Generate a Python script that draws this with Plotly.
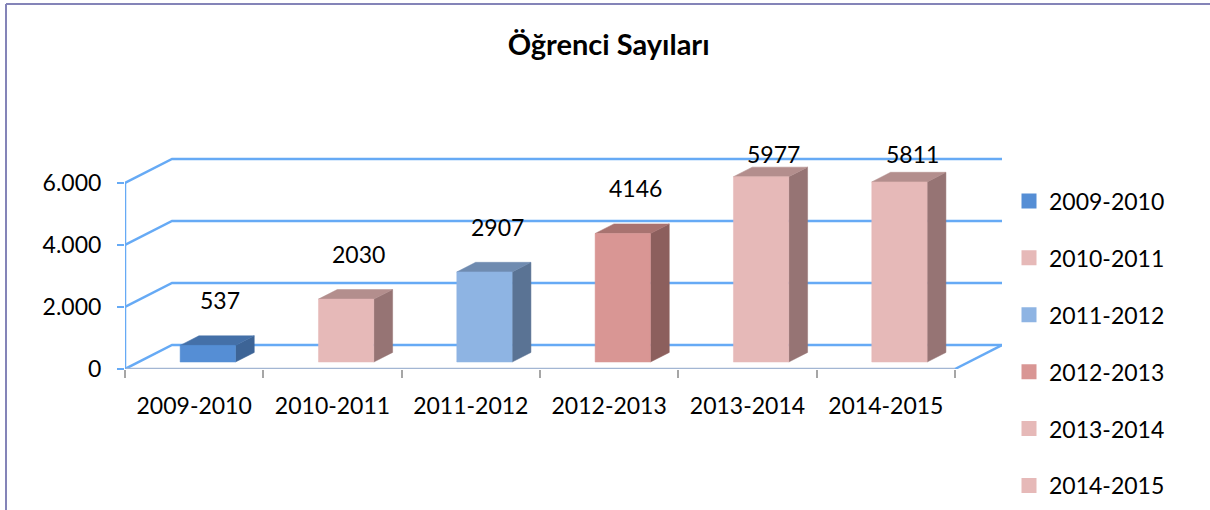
import plotly.graph_objects as go

# ---- data ----
categories = ["2009-2010", "2010-2011", "2011-2012", "2012-2013", "2013-2014", "2014-2015"]
values = [537, 2030, 2907, 4146, 5977, 5811]
front_colors = ["#558ED5", "#E6B9B8", "#8EB4E3", "#D99694", "#E6B9B8", "#E6B9B8"]
top_colors = ["#4470A8", "#B38E8D", "#6F8BB0", "#A87370", "#B38E8D", "#B38E8D"]
side_colors = ["#3D6496", "#967474", "#5A7394", "#8C5F5D", "#967474", "#967474"]
tick_vals = [0, 2000, 4000, 6000]
tick_text = ["0", "2.000", "4.000", "6.000"]
title_text = "Öğrenci Sayıları"

# ---- pseudo-3D geometry (axis units) ----
DX = 0.34      # depth offset along x (category units)
DY = 774       # depth offset along y (value units)
D0, D1 = 0.29, 0.69   # bar depth span (fraction of floor depth)
HALF_W = 0.2
N = len(categories)
GRID = "#66AAF5"
FONT = "Lato, 'Open Sans', sans-serif"
FS = 23

W, H = 1210, 510
ML, MT, PW, PH = 125, 125, 877, 244

fig = go.Figure()

# back wall gridlines + left wall diagonals
for v in tick_vals:
    fig.add_trace(go.Scatter(
        x=[0, DX, N + DX], y=[v, v + DY, v + DY], mode="lines",
        line=dict(color=GRID, width=2.5), hoverinfo="skip", showlegend=False))

# floor right diagonal and front edge
fig.add_trace(go.Scatter(
    x=[N, N + DX], y=[0, DY], mode="lines",
    line=dict(color=GRID, width=2.5), hoverinfo="skip", showlegend=False))
fig.add_trace(go.Scatter(
    x=[0, N], y=[0, 0], mode="lines",
    line=dict(color="#A3B6D3", width=2.5), hoverinfo="skip", showlegend=False))
# front vertical axis line
fig.add_trace(go.Scatter(
    x=[0, 0], y=[0, max(tick_vals)], mode="lines",
    line=dict(color=GRID, width=2.5), hoverinfo="skip", showlegend=False))

# bars
for i, v in enumerate(values):
    c = i + 0.5 + D0 * DX
    xl, xr = c - HALF_W, c + HALF_W
    yb, yt = D0 * DY, v + D0 * DY
    ddx, ddy = (D1 - D0) * DX, (D1 - D0) * DY
    # side face
    fig.add_trace(go.Scatter(
        x=[xr, xr + ddx, xr + ddx, xr, xr], y=[yb, yb + ddy, yt + ddy, yt, yb],
        fill="toself", fillcolor=side_colors[i], mode="lines",
        line=dict(color=side_colors[i], width=0.5), hoverinfo="skip", showlegend=False))
    # top face
    fig.add_trace(go.Scatter(
        x=[xl, xr, xr + ddx, xl + ddx, xl], y=[yt, yt, yt + ddy, yt + ddy, yt],
        fill="toself", fillcolor=top_colors[i], mode="lines",
        line=dict(color=top_colors[i], width=0.5), hoverinfo="skip", showlegend=False))
    # front face
    fig.add_trace(go.Scatter(
        x=[xl, xr, xr, xl, xl], y=[yb, yb, yt, yt, yb],
        fill="toself", fillcolor=front_colors[i], mode="lines",
        line=dict(color=front_colors[i], width=0.5),
        name=categories[i], hovertemplate="%{text}", text=[str(v)] * 5, showlegend=False))
    # data label
    fig.add_annotation(
        x=i + 0.5 + 0.19, y=min(v + 1680, 6950), text=str(v), showarrow=False,
        font=dict(family=FONT, size=FS, color="#000000"), xanchor="center", yanchor="middle")

# legend entries
for i, cat in enumerate(categories):
    fig.add_trace(go.Scatter(
        x=[None], y=[None], mode="markers", name=cat, legendgroup=cat,
        marker=dict(symbol="square", size=15, color=front_colors[i])))

border = "#8484B8"
fig.update_layout(
    width=W, height=H,
    margin=dict(l=ML, r=W - ML - PW, t=MT, b=H - MT - PH, autoexpand=False),
    paper_bgcolor="white", plot_bgcolor="white",
    title=dict(text=title_text, x=0.503, xanchor="center", y=1 - 45 / H, yanchor="middle",
               yref="container", font=dict(family=FONT, size=29, color="#000000", weight="bold")),
    xaxis=dict(range=[0, N + DX], showgrid=False, zeroline=False, showline=False,
               tickvals=[i + 0.5 for i in range(N)], ticktext=categories,
               ticks="outside", ticklen=0, ticklabelstandoff=16,
               tickfont=dict(family=FONT, size=FS, color="#000000"),
               minor=dict(tickvals=list(range(N + 1)), ticks="outside", ticklen=8,
                          tickcolor="#A6A6A6", tickwidth=2, showgrid=False),
               fixedrange=True, automargin=False),
    yaxis=dict(range=[0, 7870], showgrid=False, zeroline=False, showline=False,
               tickvals=tick_vals, ticktext=tick_text,
               ticks="outside", ticklen=7, tickwidth=2, tickcolor=GRID, ticklabelstandoff=11,
               tickfont=dict(family=FONT, size=FS, color="#000000"), fixedrange=True,
               automargin=False),
    legend=dict(x=(1009 - ML) / PW, xanchor="left", y=(MT + PH - 179.5) / PH, yanchor="top",
                font=dict(family=FONT, size=FS, color="#000000"), maxheight=340,
                tracegroupgap=24, itemwidth=30, bgcolor="rgba(0,0,0,0)"),
    shapes=[
        dict(type="line", xref="paper", yref="paper", x0=(6 - ML) / PW, x1=(W - ML) / PW,
             y0=(MT + PH - 4) / PH, y1=(MT + PH - 4) / PH, line=dict(color=border, width=2)),
        dict(type="line", xref="paper", yref="paper", x0=(6 - ML) / PW, x1=(6 - ML) / PW,
             y0=(MT + PH - 4) / PH, y1=(MT + PH - H) / PH, line=dict(color=border, width=2)),
    ],
)

fig.write_html("out.html", config={"displayModeBar": False},
               post_script="document.body.style.margin='0px';")
